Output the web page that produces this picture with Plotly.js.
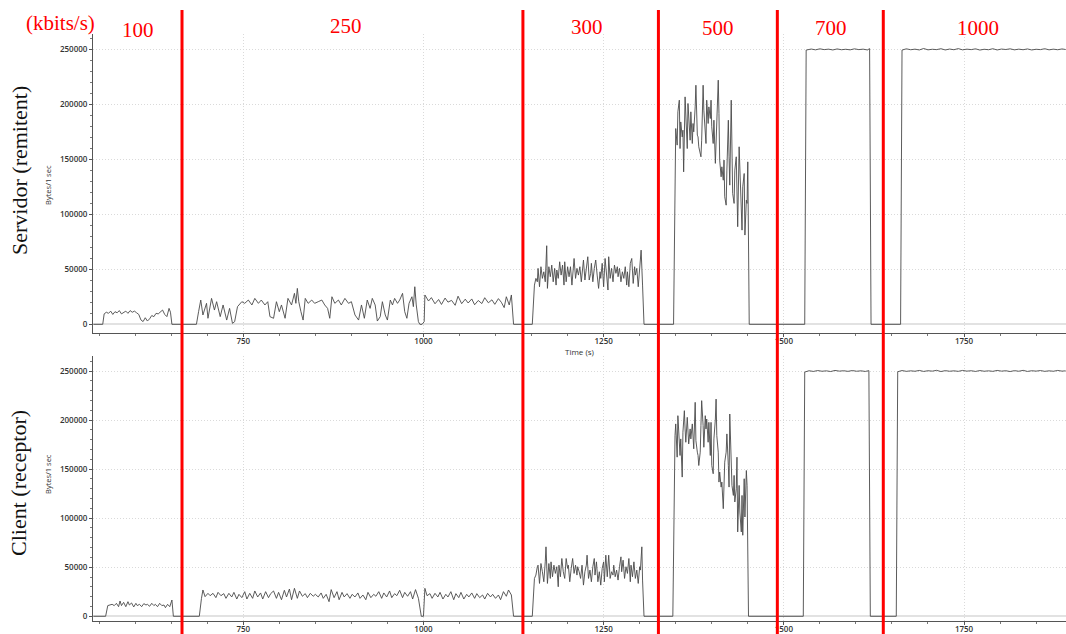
<!DOCTYPE html>
<html>
<head>
<meta charset="utf-8">
<script src="https://cdn.plot.ly/plotly-3.0.1.min.js"></script>
<style>
  html, body { margin: 0; padding: 0; background: #fff; }
  #chart { width: 1066px; height: 634px; }
</style>
</head>
<body>
<div id="chart"></div>
<script>
// ---------------- DATA ----------------
// Server (sender) throughput, Bytes per 1 s
const serverTime = [
  542, 555,
  557,560,563,566,569,572,575,578,581,584,587,590,593,596,599,602,605,608,611,614,617,620,623,626,629,632,635,638,641,644,647,649,651,
  685,
  688,691,694,699,701,706,710,713,718,722,727,731,735,738,742,748,752,757,762,766,771,775,780,784,787,792,796,800,803,808,
  812,817,821,823,825,827,830,833,836,840,845,849,854,859,863,867,870,873,877,882,886,891,896,900,905,910,914,918,922,926,
  929,933,936,940,943,947,950,954,957,960,964,967,971,974,977,980,984,986,988,990,993,995,998,1001,1002,1007,1011,1016,1021,1025,
  1030,1034,1039,1044,1048,1053,1058,1062,1067,1071,1076,1081,1085,1090,1095,1099,1104,1108,1112,1115,1119,1122,1125,
  1151,
  1154,1156,1158,1159,1161,1163,1165,1167,1169,1171,1172,1174,1176,1178,1180,1182,1184,1185,1187,1189,
  1191,1193,1195,1196,1198,1200,1202,1204,1206,1208,1209,1211,1213,1215,1217,1219,1220,1222,1224,1226,
  1228,1230,1232,1233,1235,1237,1239,1241,1243,1245,1246,1248,1250,1252,1254,1256,1257,1259,1261,1263,
  1265,1267,1269,1270,1272,1274,1276,1278,1280,1282,1283,1285,1287,1289,1291,1293,1294,1296,1298,1300,1302,1304,
  1306, 1347,
  1349,1350,1352,1353,1355,1356,1357,1359,1360,1361,1363,1364,1366,1367,1368,1370,1371,1373,1374,1375,
  1377,1378,1380,1381,1382,1384,1385,1386,1388,1389,1391,1392,1393,1395,1396,1398,1399,1400,1402,1403,
  1405,1406,1407,1409,1410,1411,1413,1414,1416,1417,1418,1420,1421,1423,1424,1425,1427,1428,1429,1431,
  1432,1434,1435,1436,1438,1439,1441,1442,1443,1445,1446,1448,1449,1450,
  1452, 1529,
  1531,1538,1544,1550,1556,1562,1568,1574,1580,1586,1592,1598,1604,1610,1616,1619,
  1621, 1662,
  1664,1670,1676,1682,1688,1694,1700,1706,1712,1718,1724,1730,1736,1742,1748,1754,1760,1766,1772,1778,
  1784,1790,1796,1802,1808,1814,1820,1826,1832,1838,1844,1850,1856,1862,1868,1874,1880,1886,1891
];
const serverBytes = [
  0, 0,
  9500,11000,10000,12000,9000,11500,10500,12500,9500,11000,12000,10000,12500,11000,12000,10500,9000,4000,2500,6000,3000,5000,8000,7000,10000,9500,11500,13000,9000,7000,14500,11000,0,
  0,
  11500,22100,8500,19100,5500,23600,13000,20600,7000,17600,3900,14500,900,2400,16100,20600,19100,22100,17600,23600,19100,22100,17600,20600,7000,5500,20600,11500,17600,5500,
  23600,17600,28200,19100,32700,20600,11500,3900,23600,19100,22100,19100,20600,22100,17600,14500,5500,25100,19100,22100,17600,23600,19100,20600,8500,3900,17600,5500,22100,14500,
  23600,17600,3000,7000,20600,8500,3900,22100,17600,23600,19100,22100,28200,11500,5500,19100,25100,16100,34200,17600,2400,0,0,2400,26700,21200,24300,18700,22600,18100,
  23900,20200,21800,17300,25600,18800,22900,19400,23100,17800,21700,18900,24200,19600,22300,18200,23400,20100,15200,25100,17600,26700,0,
  0,
  35700,41800,38700,50900,34200,52400,41800,47800,38700,71500,32700,52400,43300,53900,38700,50900,35700,49400,41800,56900,
  44800,53900,35700,56900,38700,52400,43300,52400,35700,47800,59900,41800,50900,44800,52400,38700,47800,58500,40300,50900,
  61500,40300,46400,55500,38700,50900,58500,44800,32700,47800,41800,55500,34200,59900,44800,31200,61500,41800,50900,38700,
  53900,46400,52400,43300,50900,38700,47800,41800,52400,35700,47800,34200,55500,59900,37200,52400,44800,50900,34200,47800,67500,35700,
  0, 0,
  167500,178100,163000,193300,203900,159900,184100,170500,176600,138700,206900,187200,159900,200900,185700,167500,193300,164500,182700,175100,
  197800,217500,172100,170500,161500,156900,152400,167500,217500,194800,179700,164500,203900,182700,197800,187200,203900,179700,164500,185700,
  146400,170500,194800,222100,191800,149400,134200,143300,131100,149400,116000,108400,140300,185700,152400,126600,203900,149400,119100,110000,
  140300,152400,113000,88800,161500,140300,110000,85700,125100,137200,81200,113000,110000,147800,
  0, 0,
  249500,250400,249700,250600,249900,250300,249600,250500,249800,250200,249700,250600,249900,250300,249600,250800,
  0, 0,
  249500,250600,249800,250300,249600,250900,249700,250200,249900,250700,249600,250400,249800,250800,249700,250300,249900,250600,249500,250200,
  249800,250700,249600,250400,250000,250600,249700,250300,249800,250500,249600,250200,249900,250700,249700,250300,249800,250500,250000
];

// Client (receiver) throughput, Bytes per 1 s
const clientTime = [
  542, 559,
  562,565,568,571,574,577,579,581,584,587,590,592,595,598,601,603,606,609,612,615,617,620,623,626,628,631,634,637,640,642,645,648,651,653,
  689, 692, 694,
  697,701,704,708,712,715,719,723,726,730,734,737,741,744,748,752,755,759,763,766,
  770,774,777,781,785,788,792,796,799,803,807,810,814,817,821,825,828,832,836,839,
  843,847,850,854,858,861,865,869,872,876,880,883,887,890,894,898,901,905,909,912,
  916,920,923,927,931,934,938,942,945,949,953,956,960,963,967,971,974,978,982,985,989,993,
  997, 1000, 1002,
  1005,1009,1012,1016,1020,1023,1027,1031,1034,1038,1042,1045,1049,1052,1056,1060,1063,1067,1071,1074,
  1078,1082,1085,1089,1093,1096,1100,1104,1107,1111,1115,1118,1122,
  1125, 1151,
  1154,1156,1158,1159,1161,1163,1165,1167,1169,1170,1172,1174,1176,1177,1179,1181,1183,1185,1187,1188,
  1190,1192,1194,1196,1198,1200,1201,1203,1205,1207,1209,1211,1213,1214,1216,1218,1220,1222,1224,1226,
  1227,1229,1231,1233,1235,1237,1238,1240,1242,1244,1246,1248,1250,1251,1253,1255,1257,1259,1261,1263,
  1264,1266,1268,1270,1272,1274,1275,1277,1279,1281,1283,1285,1287,1288,1290,1292,1294,1296,1298,1300,
  1301,1303,1304,
  1306, 1346,
  1348,1349,1350,1352,1353,1355,1356,1357,1359,1360,1362,1363,1364,1366,1367,1368,1370,1371,1373,1374,
  1375,1377,1378,1380,1381,1382,1384,1385,1386,1388,1389,1391,1392,1393,1395,1396,1398,1399,1400,1402,
  1403,1405,1406,1407,1409,1410,1411,1413,1414,1416,1417,1418,1420,1421,1423,1424,1425,1427,1428,1430,
  1431,1432,1434,1435,1436,1438,1439,1441,1442,1443,1445,1446,1448,1449,
  1451, 1527,
  1529,1535,1541,1547,1553,1559,1565,1571,1577,1583,1589,1595,1601,1607,1613,1618,
  1620, 1656,
  1658,1664,1670,1676,1682,1688,1694,1700,1706,1712,1718,1724,1730,1736,1742,1748,1754,1760,1766,1772,
  1778,1784,1790,1796,1802,1808,1814,1820,1826,1832,1838,1844,1850,1856,1862,1868,1874,1880,1886,1891
];
const clientBytes = [
  0, 0,
  10900,11500,12200,10900,13200,9800,15600,10900,14200,9800,14900,11500,13600,9500,13200,10900,12200,9800,12900,11500,12200,10200,13200,10900,12200,9800,13200,10900,11500,8800,12200,9800,16600,0,
  0, 18300, 26800,
  20000,23400,21000,23400,19000,24400,21000,23100,18300,23400,19700,24400,17600,22400,19000,25100,17600,23400,18300,25800,
  19700,23800,17600,25100,19000,23100,25800,18300,24400,16900,26500,19700,27800,16900,28500,18300,25800,20400,23100,19000,
  23400,20400,22400,19700,23800,18300,22400,14900,27200,19000,25100,16900,24400,19700,23100,18300,22400,19700,23800,18300,
  21700,16900,24400,19000,22400,20400,25100,18300,23800,19700,25800,19000,23100,21000,26500,19000,24400,20400,25100,17600,27200,18300,
  0, 0, 28500,
  21000,23100,18300,23400,19700,24400,17600,22400,19700,25100,16900,23100,19000,24400,17600,22400,19700,23800,18300,23100,
  19000,21700,17600,23400,19700,22400,18300,21700,16900,25100,20400,26800,21700,
  0, 0,
  38600,42000,50500,52100,33500,53800,45400,35200,55500,70800,33500,53800,38600,55500,40300,52100,43700,50500,30100,52100,
  40300,58900,45400,38600,58900,48800,52100,35200,48800,58900,43700,52100,42000,50500,45400,38600,52100,31800,45400,52100,
  62300,38600,47100,35200,50500,58900,42000,55500,35200,45400,31800,48800,55500,35200,62300,40300,62300,38600,45400,42000,
  52100,40300,47100,36900,50500,60600,45400,57200,38600,50500,43700,58900,35200,52100,40300,55500,38600,47100,33500,50500,
  47100,70800,36900,
  0, 0,
  169000,184200,196100,162200,204500,184200,163900,180800,141900,187600,209600,191000,177400,202800,187600,175700,191000,180800,196100,177400,
  170700,218100,179100,167300,163900,153700,167300,194400,219800,194400,172300,204500,191000,201100,177400,197700,163900,197700,153700,145300,
  180800,201100,221400,184200,167300,136800,147000,131700,136800,109700,133400,157100,167300,185900,153700,131700,206200,153700,133400,123200,
  143600,116500,130000,162200,86000,133400,106300,86000,123200,82600,140200,101200,148600,133400,
  0, 0,
  249000,250300,249600,250500,249800,250200,249500,250600,249900,250300,249700,250500,249800,250200,249600,250400,
  0, 0,
  249300,250500,249700,250200,249800,250600,249600,250300,249900,250700,249500,250400,249800,250200,249700,250600,249900,250300,249600,250500,
  249800,250200,249700,250600,249900,250300,249500,250400,249800,250700,249600,250300,249900,250500,249700,250200,249800,250600,249900,250200
];

// Times (s) at which the link bandwidth was changed (red markers)
const rateChangeTimes = [665, 1138, 1326, 1491, 1638];
// Bandwidth labels (kbit/s) for each interval
const rateLabels = ['100', '250', '300', '500', '700', '1000'];
const rateUnit = '(kbits/s)';
const panelLabels = ['Servidor (remitent)', 'Client (receptor)'];
const yAxisLabel = 'Bytes/1 sec';
const xAxisLabel = 'Time (s)';

if (serverTime.length !== serverBytes.length || clientTime.length !== clientBytes.length) {
  console.error('length mismatch', serverTime.length, serverBytes.length, clientTime.length, clientBytes.length);
}

// ---------------- STYLE / LAYOUT ----------------
const lineStyle = { color: '#4a4a4a', width: 0.9 };
const traces = [
  { x: serverTime, y: serverBytes, xaxis: 'x', yaxis: 'y', type: 'scatter', mode: 'lines', line: lineStyle, hoverinfo: 'skip' },
  { x: clientTime, y: clientBytes, xaxis: 'x2', yaxis: 'y2', type: 'scatter', mode: 'lines', line: lineStyle, hoverinfo: 'skip' }
];

const tickFont = { family: 'Open Sans, DejaVu Sans, sans-serif', size: 8, color: '#333', weight: 600 };
const gridColor = '#dadada';
const gridDash = '1px,2px';
function xAxis(anchor, withTitle) {
  const a = {
    anchor: anchor, domain: [0, 1], range: [541.5, 1891.5],
    tick0: 0, dtick: 250, ticks: 'outside', ticklen: 3, tickwidth: 1, tickcolor: '#555',
    ticklabelstandoff: -3,
    showline: true, linecolor: '#555', linewidth: 1,
    showgrid: true, gridcolor: gridColor, griddash: gridDash, gridwidth: 1,
    zeroline: false, tickfont: tickFont,
    minor: { dtick: 50, ticks: 'outside', ticklen: 2, tickcolor: '#777', showgrid: false }
  };
  if (withTitle) a.title = { text: xAxisLabel, font: { family: 'Open Sans, DejaVu Sans, sans-serif', size: 8, color: '#333' }, standoff: 1 };
  return a;
}
function yAxis(anchor, domain, range) {
  return {
    anchor: anchor, domain: domain, range: range,
    tick0: 0, dtick: 50000, tickformat: 'd', ticks: 'outside', ticklen: 3, tickwidth: 1, tickcolor: '#555',
    showline: true, linecolor: '#555', linewidth: 1,
    showgrid: true, gridcolor: gridColor, griddash: gridDash, gridwidth: 1,
    zeroline: true, zerolinecolor: '#e2e2e2', zerolinewidth: 2,
    tickfont: tickFont,
    minor: { dtick: 10000, ticks: 'outside', ticklen: 2, tickcolor: '#777', showgrid: false }
  };
}

// annotation positions (paper coordinates)
const labelX = [0.0462, 0.2600, 0.5077, 0.6423, 0.7585, 0.9096];
const labelY = [1.0068, 1.0136, 1.0119, 1.0102, 1.0102, 1.0102];
const redFont = { family: 'Liberation Serif, DejaVu Serif, serif', size: 21, color: '#ff0000' };

const annotations = [];
rateLabels.forEach((t, i) => annotations.push({
  xref: 'paper', yref: 'paper', x: labelX[i], y: labelY[i], text: t, showarrow: false,
  xanchor: 'center', yanchor: 'middle', font: redFont
}));
annotations.push({ xref: 'paper', yref: 'paper', x: -0.0339, y: 1.0187, text: rateUnit, showarrow: false,
  xanchor: 'center', yanchor: 'middle', font: redFont });
annotations.push({ xref: 'paper', yref: 'paper', x: -0.0761, y: 0.7683, text: panelLabels[0], showarrow: false,
  textangle: -90, xanchor: 'center', yanchor: 'middle',
  font: { family: 'Liberation Serif, DejaVu Serif, serif', size: 22, color: '#111' } });
annotations.push({ xref: 'paper', yref: 'paper', x: -0.0761, y: 0.2351, text: panelLabels[1], showarrow: false,
  textangle: -90, xanchor: 'center', yanchor: 'middle',
  font: { family: 'Liberation Serif, DejaVu Serif, serif', size: 22, color: '#111' } });
annotations.push({ xref: 'paper', yref: 'paper', x: -0.0463, y: 0.7428, text: yAxisLabel, showarrow: false,
  textangle: -90, xanchor: 'center', yanchor: 'middle',
  font: { family: 'Open Sans, DejaVu Sans, sans-serif', size: 7.5, color: '#333' } });
annotations.push({ xref: 'paper', yref: 'paper', x: -0.0463, y: 0.2504, text: yAxisLabel, showarrow: false,
  textangle: -90, xanchor: 'center', yanchor: 'middle',
  font: { family: 'Open Sans, DejaVu Sans, sans-serif', size: 7.5, color: '#333' } });

const shapes = rateChangeTimes.map(t => ({
  type: 'line', xref: 'x', yref: 'paper', x0: t, x1: t, y0: -0.03, y1: 1.0409,
  line: { color: '#ff0000', width: 3 }, layer: 'above'
}));

const layout = {
  width: 1066, height: 634,
  margin: { l: 93, r: 0, t: 34, b: 13 },
  paper_bgcolor: '#ffffff', plot_bgcolor: '#ffffff',
  showlegend: false,
  font: { family: 'Open Sans, DejaVu Sans, sans-serif', color: '#333' },
  xaxis: xAxis('y', true),
  yaxis: yAxis('x', [0.4906, 1], [-7900, 264100]),
  xaxis2: xAxis('y2', false),
  yaxis2: yAxis('x2', [0, 0.4514], [-4800, 265300]),
  annotations: annotations,
  shapes: shapes
};

Plotly.newPlot('chart', traces, layout, { staticPlot: true, displayModeBar: false });
</script>
</body>
</html>
